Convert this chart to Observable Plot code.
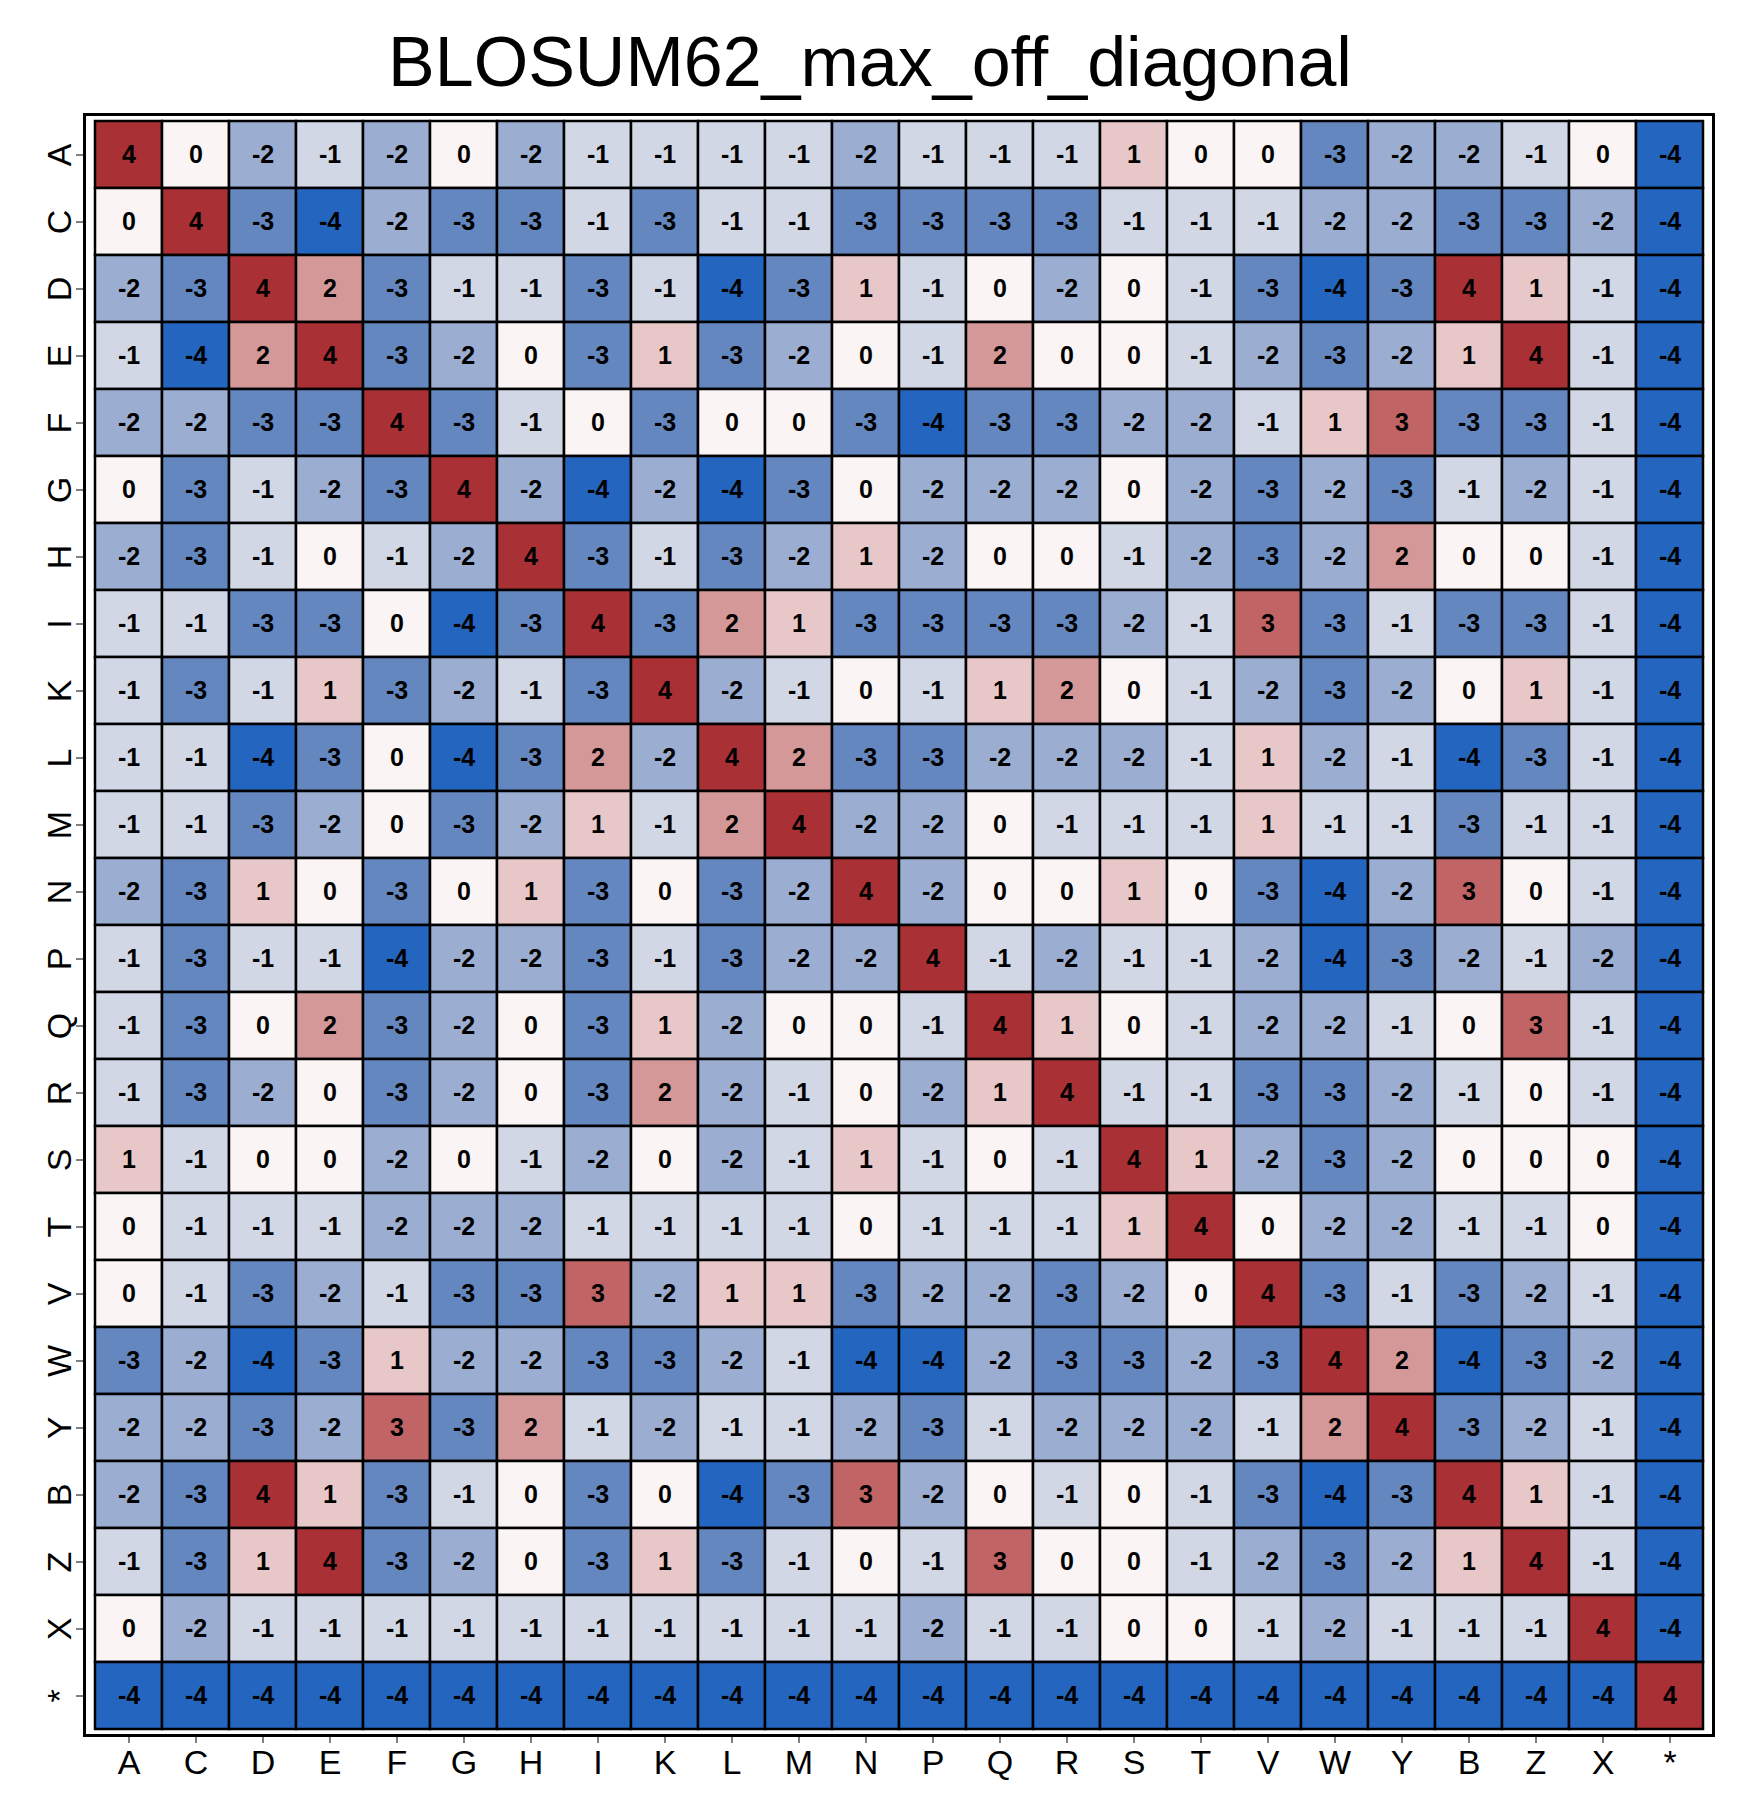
<!DOCTYPE html>
<html><head><meta charset="utf-8">
<script src="https://cdn.jsdelivr.net/npm/d3@7"></script>
<script src="https://cdn.jsdelivr.net/npm/@observablehq/plot@0.6"></script>
<style>
body{margin:0;background:#fff;font-family:"Liberation Sans",Arial,sans-serif}
#title{height:112px;text-align:center;font-size:70px;line-height:124px;color:#000}
</style></head>
<body>
<div id="title">BLOSUM62_max_off_diagonal</div>
<div id="vis"></div>
<script>
const labels = ["A","C","D","E","F","G","H","I","K","L","M","N","P","Q","R","S","T","V","W","Y","B","Z","X","*"];
const matrix = [
[4,0,-2,-1,-2,0,-2,-1,-1,-1,-1,-2,-1,-1,-1,1,0,0,-3,-2,-2,-1,0,-4],
[0,4,-3,-4,-2,-3,-3,-1,-3,-1,-1,-3,-3,-3,-3,-1,-1,-1,-2,-2,-3,-3,-2,-4],
[-2,-3,4,2,-3,-1,-1,-3,-1,-4,-3,1,-1,0,-2,0,-1,-3,-4,-3,4,1,-1,-4],
[-1,-4,2,4,-3,-2,0,-3,1,-3,-2,0,-1,2,0,0,-1,-2,-3,-2,1,4,-1,-4],
[-2,-2,-3,-3,4,-3,-1,0,-3,0,0,-3,-4,-3,-3,-2,-2,-1,1,3,-3,-3,-1,-4],
[0,-3,-1,-2,-3,4,-2,-4,-2,-4,-3,0,-2,-2,-2,0,-2,-3,-2,-3,-1,-2,-1,-4],
[-2,-3,-1,0,-1,-2,4,-3,-1,-3,-2,1,-2,0,0,-1,-2,-3,-2,2,0,0,-1,-4],
[-1,-1,-3,-3,0,-4,-3,4,-3,2,1,-3,-3,-3,-3,-2,-1,3,-3,-1,-3,-3,-1,-4],
[-1,-3,-1,1,-3,-2,-1,-3,4,-2,-1,0,-1,1,2,0,-1,-2,-3,-2,0,1,-1,-4],
[-1,-1,-4,-3,0,-4,-3,2,-2,4,2,-3,-3,-2,-2,-2,-1,1,-2,-1,-4,-3,-1,-4],
[-1,-1,-3,-2,0,-3,-2,1,-1,2,4,-2,-2,0,-1,-1,-1,1,-1,-1,-3,-1,-1,-4],
[-2,-3,1,0,-3,0,1,-3,0,-3,-2,4,-2,0,0,1,0,-3,-4,-2,3,0,-1,-4],
[-1,-3,-1,-1,-4,-2,-2,-3,-1,-3,-2,-2,4,-1,-2,-1,-1,-2,-4,-3,-2,-1,-2,-4],
[-1,-3,0,2,-3,-2,0,-3,1,-2,0,0,-1,4,1,0,-1,-2,-2,-1,0,3,-1,-4],
[-1,-3,-2,0,-3,-2,0,-3,2,-2,-1,0,-2,1,4,-1,-1,-3,-3,-2,-1,0,-1,-4],
[1,-1,0,0,-2,0,-1,-2,0,-2,-1,1,-1,0,-1,4,1,-2,-3,-2,0,0,0,-4],
[0,-1,-1,-1,-2,-2,-2,-1,-1,-1,-1,0,-1,-1,-1,1,4,0,-2,-2,-1,-1,0,-4],
[0,-1,-3,-2,-1,-3,-3,3,-2,1,1,-3,-2,-2,-3,-2,0,4,-3,-1,-3,-2,-1,-4],
[-3,-2,-4,-3,1,-2,-2,-3,-3,-2,-1,-4,-4,-2,-3,-3,-2,-3,4,2,-4,-3,-2,-4],
[-2,-2,-3,-2,3,-3,2,-1,-2,-1,-1,-2,-3,-1,-2,-2,-2,-1,2,4,-3,-2,-1,-4],
[-2,-3,4,1,-3,-1,0,-3,0,-4,-3,3,-2,0,-1,0,-1,-3,-4,-3,4,1,-1,-4],
[-1,-3,1,4,-3,-2,0,-3,1,-3,-1,0,-1,3,0,0,-1,-2,-3,-2,1,4,-1,-4],
[0,-2,-1,-1,-1,-1,-1,-1,-1,-1,-1,-1,-2,-1,-1,0,0,-1,-2,-1,-1,-1,4,-4],
[-4,-4,-4,-4,-4,-4,-4,-4,-4,-4,-4,-4,-4,-4,-4,-4,-4,-4,-4,-4,-4,-4,-4,4]
];
const scoreLevels = [-4,-3,-2,-1,0,1,2,3,4];
const scoreColors = ["#2466bf","#6487c0","#9badd0","#d1d7e5","#fbf4f4","#e8c7c8","#d49899","#c16466","#a93035"];

const cells = [];
matrix.forEach((row, i) => row.forEach((v, j) => cells.push({row: labels[i], col: labels[j], v})));

const chart = Plot.plot({
  width: 1740,
  height: 1703,
  marginLeft: 84,
  marginRight: 27,
  marginTop: 2,
  marginBottom: 80,
  style: {fontFamily: "Liberation Sans, Arial, sans-serif", fontSize: "34px", color: "#000"},
  x: {domain: labels, label: null, tickSize: 8, tickPadding: 6, padding: 0},
  y: {domain: labels, label: null, tickSize: 8, tickPadding: 6, tickRotate: -90, padding: 0},
  color: {type: "ordinal", domain: scoreLevels, range: scoreColors},
  marks: [
    Plot.cell(cells, {x: "col", y: "row", fill: "v", stroke: "#000", strokeWidth: 2.5}),
    Plot.text(cells, {x: "col", y: "row", text: d => String(d.v), fontSize: 25, fontWeight: "bold", fill: "#000"}),
    Plot.frame({stroke: "#000", strokeWidth: 3})
  ]
});
document.getElementById("vis").append(chart);
</script>
</body></html>
